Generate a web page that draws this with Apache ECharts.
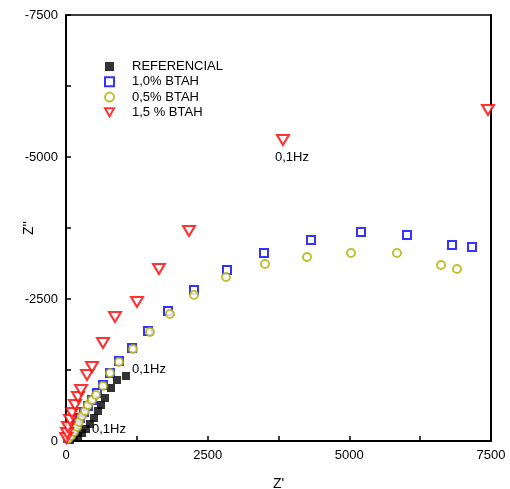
<!DOCTYPE html>
<html>
<head>
<meta charset="utf-8">
<script src="https://cdn.jsdelivr.net/npm/echarts@6/dist/echarts.min.js"></script>
<style>
  html, body { margin: 0; padding: 0; background: #fff; }
  #chart { width: 510px; height: 489px; }
</style>
</head>
<body>
<div id="chart"></div>
<script>
// Z' , Z'' pairs
var seriesNames = ['REFERENCIAL', '1,0% BTAH', '0,5% BTAH', '1,5 % BTAH'];

var referencial = [
  [71, -18], [141, -53], [212, -88], [282, -141], [353, -211], [424, -299],
  [494, -405], [565, -528], [618, -634], [688, -757], [794, -933], [900, -1074],
  [1059, -1144]
];

var btah10 = [
  [35, -53], [88, -123], [141, -211], [194, -299], [247, -405], [318, -511],
  [388, -616], [459, -722], [547, -845], [653, -986], [776, -1197], [935, -1408],
  [1165, -1637], [1447, -1937], [1800, -2289], [2259, -2658], [2841, -3011],
  [3494, -3310], [4324, -3539], [5206, -3680], [6018, -3627], [6812, -3451],
  [7165, -3416]
];

var btah05 = [
  [35, -35], [88, -88], [141, -158], [194, -246], [229, -334], [282, -440],
  [335, -528], [388, -634], [459, -722], [529, -810], [653, -968], [776, -1197],
  [935, -1391], [1182, -1620], [1482, -1919], [1835, -2236], [2259, -2570],
  [2824, -2887], [3512, -3116], [4253, -3240], [5029, -3310], [5841, -3310],
  [6618, -3099], [6900, -3028]
];

var btah15 = [
  [5, -53], [18, -141], [35, -246], [71, -370], [106, -493], [159, -634],
  [212, -775], [265, -898], [371, -1162], [459, -1303], [653, -1725],
  [865, -2183], [1253, -2447], [1641, -3028], [2171, -3697], [3829, -5299],
  [7447, -5827]
];

// "0,1Hz" annotations (position of text start)
var notes = [
  { text: '0,1Hz', coord: [3688, -5000] },
  { text: '0,1Hz', coord: [1165, -1268] },
  { text: '0,1Hz', coord: [459, -211] }
];

var myChart = echarts.init(document.getElementById('chart'));
var font = 'Liberation Sans, Arial, sans-serif';

function axisBase(show) {
  return {
    type: 'value',
    min: 0,
    max: 7500,
    interval: 1250,
    axisLine: { show: true, onZero: false, lineStyle: { color: '#000', width: 2 } },
    axisTick: { show: show, inside: true, length: 5, lineStyle: { color: '#000', width: 1.5 } },
    axisLabel: {
      show: show,
      color: '#000',
      fontSize: 13,
      fontFamily: font,
      margin: 8,
      formatter: function (v) { return v % 2500 === 0 ? v : ''; }
    },
    splitLine: { show: false }
  };
}

var xMain = axisBase(true);
xMain.name = "Z'";
xMain.nameLocation = 'middle';
xMain.nameGap = 36;
xMain.nameMoveOverlap = false;
xMain.nameTextStyle = { color: '#000', fontSize: 14, fontFamily: font };

var xTop = axisBase(false);
xTop.position = 'top';
xTop.axisLine.lineStyle.width = 1.5;

var yMain = axisBase(true);
yMain.min = -7500;
yMain.max = 0;
yMain.inverse = true;
yMain.name = "Z''";
yMain.nameLocation = 'middle';
yMain.nameGap = 30;
yMain.nameMoveOverlap = false;
yMain.nameTextStyle = { color: '#000', fontSize: 14, fontFamily: font };

var yRight = axisBase(false);
yRight.min = -7500;
yRight.max = 0;
yRight.inverse = true;
yRight.position = 'right';

var option = {
  backgroundColor: '#fff',
  animation: false,
  grid: { left: 66, right: 19, top: 15, bottom: 48, outerBoundsMode: 'none', containLabel: false },
  legend: {
    orient: 'vertical',
    left: 104,
    top: 60,
    padding: 0,
    itemWidth: 9,
    itemHeight: 9,
    itemGap: 2.3,
    textStyle: { color: '#000', fontSize: 13, fontFamily: font, padding: [0, 0, 0, 13] },
    data: [
      { name: seriesNames[0] },
      { name: seriesNames[1] },
      { name: seriesNames[2] },
      { name: seriesNames[3], icon: 'path://M0,0 L10,0 L5,9 Z' }
    ]
  },
  xAxis: [xMain, xTop],
  yAxis: [yMain, yRight],
  series: [
    {
      name: seriesNames[0],
      type: 'scatter',
      symbol: 'rect',
      symbolSize: 8,
      itemStyle: { color: '#000' },
      data: referencial
    },
    {
      name: seriesNames[1],
      type: 'scatter',
      symbol: 'rect',
      symbolSize: 8,
      itemStyle: { color: '#fff', borderColor: '#0000ff', borderWidth: 2 },
      data: btah10
    },
    {
      name: seriesNames[2],
      type: 'scatter',
      symbol: 'circle',
      symbolSize: 8,
      itemStyle: { color: '#fff', borderColor: '#b0b000', borderWidth: 2 },
      data: btah05
    },
    {
      name: seriesNames[3],
      type: 'scatter',
      symbol: 'triangle',
      symbolRotate: 180,
      symbolSize: [12, 10],
      itemStyle: { color: '#fff', borderColor: '#ff0000', borderWidth: 2 },
      data: btah15,
      markPoint: {
        symbol: 'circle',
        symbolSize: 0,
        silent: true,
        label: {
          show: true,
          position: 'right',
          distance: 0,
          color: '#000',
          fontSize: 13,
          fontFamily: font,
          formatter: function (p) { return p.name; }
        },
        data: notes.map(function (n) { return { name: n.text, coord: n.coord }; })
      }
    }
  ]
};

myChart.setOption(option);
</script>
</body>
</html>
